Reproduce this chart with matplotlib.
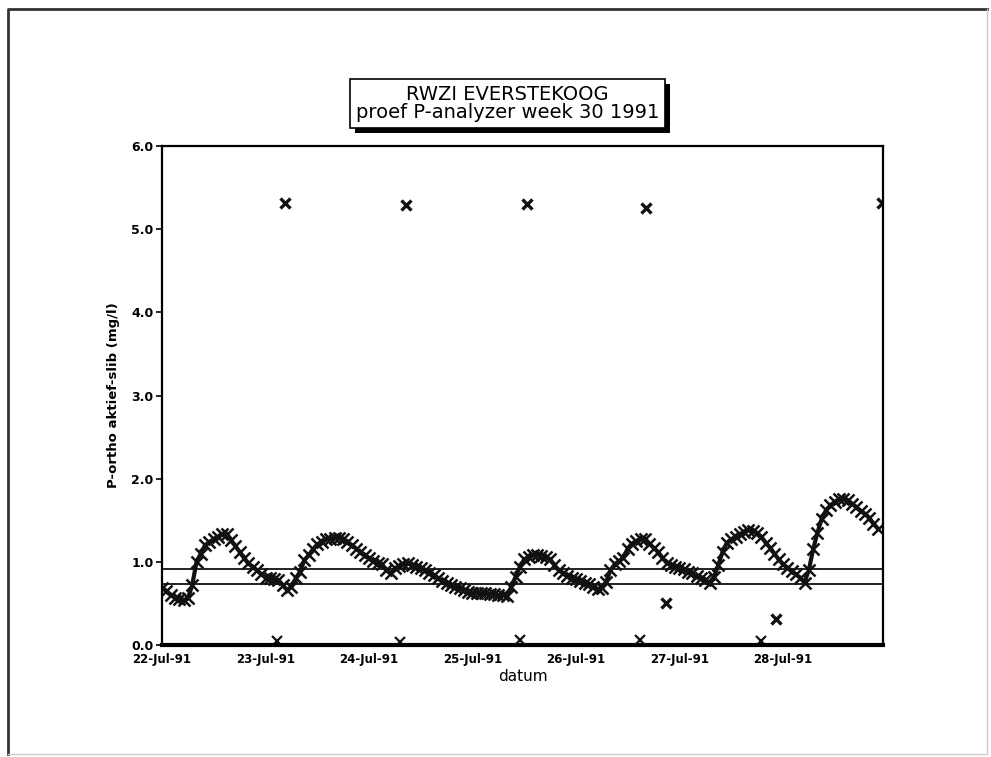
import matplotlib
matplotlib.use('Agg')
import matplotlib.pyplot as plt
from matplotlib.lines import Line2D
from matplotlib.patches import Rectangle

plt.rcParams['font.family'] = ['DejaVu Sans']

# hourly P-ortho values from 22-Jul-91 00:00
p_ortho = [0.69, 0.65, 0.60, 0.57, 0.55, 0.54, 0.56, 0.72, 1.00, 1.10,
           1.20, 1.24, 1.27, 1.30, 1.33, 1.34, 1.26, 1.19, 1.12, 1.05,
           0.98, 0.94, 0.90, 0.85, 0.81, 0.80, 0.79, 0.78, 0.72, 0.66,
           0.70, 0.80, 0.88, 1.02, 1.08, 1.15, 1.21, 1.24, 1.27, 1.28,
           1.29, 1.29, 1.28, 1.24, 1.20, 1.16, 1.12, 1.08, 1.04, 1.01,
           0.99, 0.97, 0.90, 0.86, 0.92, 0.95, 0.97, 0.98, 0.96, 0.94,
           0.92, 0.90, 0.87, 0.84, 0.80, 0.77, 0.74, 0.72, 0.70, 0.68,
           0.66, 0.64, 0.63, 0.63, 0.62, 0.62, 0.61, 0.61, 0.60, 0.60,
           0.59, 0.70, 0.82, 0.94, 1.03, 1.06, 1.08, 1.08, 1.07, 1.06,
           1.03, 0.96, 0.90, 0.86, 0.83, 0.81, 0.79, 0.77, 0.75, 0.73,
           0.70, 0.67, 0.69, 0.76, 0.90, 0.97, 1.01, 1.05, 1.16, 1.22,
           1.25, 1.27, 1.28, 1.22, 1.17, 1.12, 1.05, 0.99, 0.96, 0.94,
           0.92, 0.91, 0.88, 0.86, 0.83, 0.81, 0.78, 0.75, 0.82, 0.96,
           1.12, 1.23, 1.27, 1.30, 1.33, 1.36, 1.38, 1.37, 1.35, 1.30,
           1.23, 1.17, 1.10, 1.03, 0.97, 0.93, 0.89, 0.85, 0.81, 0.75,
           0.90, 1.15, 1.35, 1.52, 1.62, 1.68, 1.72, 1.75, 1.76, 1.74,
           1.70, 1.66, 1.61, 1.58, 1.53, 1.46, 1.40]
hours = list(range(len(p_ortho)))

# calibration spikes and zero readings (hours since start)
spike_hours = [28.5, 56.5, 84.7, 112.3, 167.0]
spike_vals = [5.31, 5.29, 5.30, 5.26, 5.31]
zero_hours = [26.7, 55.2, 83.0, 110.9, 139.0]
zero_vals = [0.05, 0.04, 0.06, 0.06, 0.05]
odd_hours = [116.9, 142.3]
odd_vals = [0.50, 0.31]

limit_high = 0.915
limit_low = 0.73

day_labels = ['22-Jul-91', '23-Jul-91', '24-Jul-91', '25-Jul-91',
              '26-Jul-91', '27-Jul-91', '28-Jul-91']
y_ticks = [0.0, 1.0, 2.0, 3.0, 4.0, 5.0, 6.0]

fig = plt.figure(figsize=(9.91, 7.57), dpi=100)
ax = fig.add_axes([0.1635, 0.148, 0.7275, 0.659])

ax.axhline(limit_high, color='#222222', lw=1.4)
ax.axhline(limit_low, color='#222222', lw=1.4)

ax.plot(hours, p_ortho, color='#111111', lw=3.0, marker='x',
        markersize=9, mew=1.8)
ax.plot(spike_hours, spike_vals, ls='none', marker='x', color='#111111',
        markersize=7, mew=2.4)
ax.plot(zero_hours, zero_vals, ls='none', marker='x', color='#111111',
        markersize=7, mew=1.6)
ax.plot(odd_hours, odd_vals, ls='none', marker='x', color='#111111',
        markersize=7, mew=2.4)

ax.set_xlim(0, 167.2)
ax.set_ylim(0, 6.0)
ax.set_xticks([24 * i for i in range(len(day_labels))])
ax.set_xticklabels(day_labels, fontsize=8.5, fontweight='bold')
ax.set_yticks(y_ticks)
ax.set_yticklabels(['%.1f' % v for v in y_ticks], fontsize=9,
                   fontweight='bold')
ax.tick_params(axis='x', length=0, pad=6)
ax.tick_params(axis='y', length=4, width=1.2, pad=2)

for side in ['top', 'left', 'right']:
    ax.spines[side].set_linewidth(1.6)
ax.spines['bottom'].set_linewidth(3.0)

ax.set_xlabel('datum', fontsize=11, labelpad=2)
ax.set_ylabel('P-ortho aktief-slib (mg/l)', fontsize=9.5, fontweight='bold',
              labelpad=8)

# title box, shadow drawn as a rectangle behind it
title = 'RWZI EVERSTEKOOG\nproef P-analyzer week 30 1991'
t = fig.text(0.512, 0.863, title, ha='center', va='center', fontsize=14,
             linespacing=0.95, zorder=5,
             bbox=dict(boxstyle='square,pad=0.3', fc='white', ec='black', lw=1.2))
fig.canvas.draw()
bb = t.get_bbox_patch().get_window_extent().transformed(fig.transFigure.inverted())
fig.add_artist(Rectangle((bb.x0 + 5 / 991, bb.y0 - 5 / 757), bb.width, bb.height,
                         transform=fig.transFigure, fc='black', ec='none',
                         zorder=4))

# page border
fig.add_artist(Line2D([8 / 991, 8 / 991, 987 / 991], [3 / 757, 748 / 757, 748 / 757],
                      transform=fig.transFigure, color='#333333', lw=2))
fig.add_artist(Line2D([987 / 991, 987 / 991, 8 / 991], [748 / 757, 3 / 757, 3 / 757],
                      transform=fig.transFigure, color='#cccccc', lw=1))

fig.savefig('out.png', dpi=100)
